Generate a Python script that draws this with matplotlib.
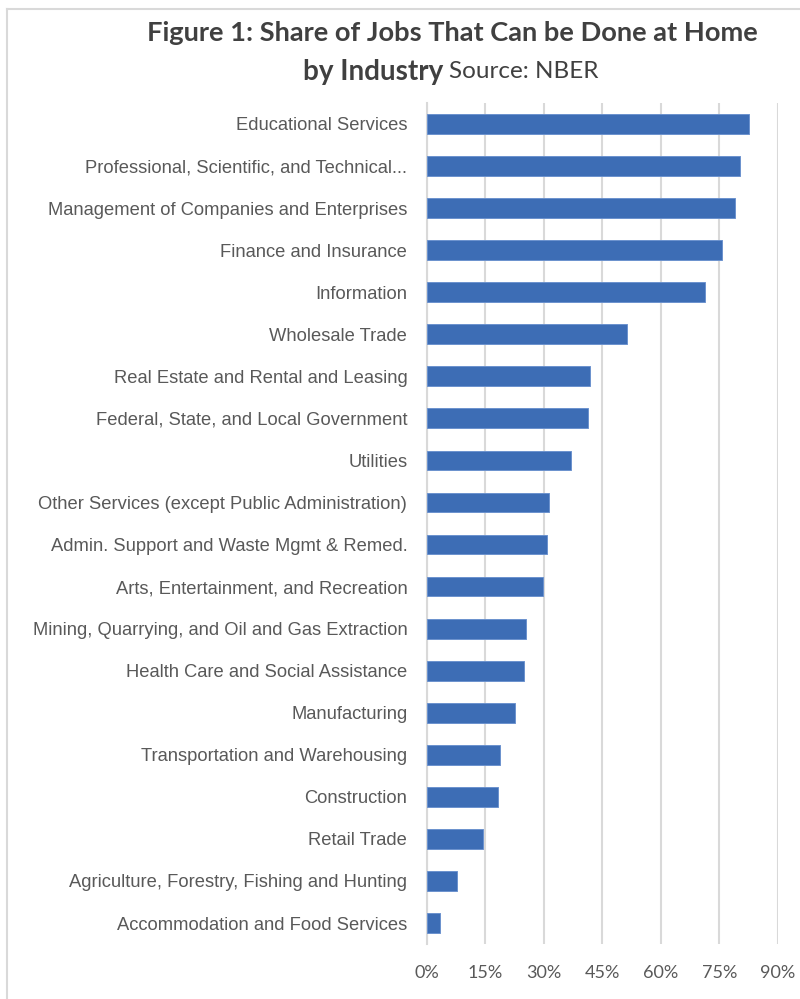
import matplotlib
matplotlib.use('Agg')
import matplotlib.pyplot as plt
from matplotlib import font_manager
from matplotlib.lines import Line2D
from matplotlib.ticker import FuncFormatter

# share of jobs that can be done at home, by industry (NBER)
industries = [
    'Educational Services',
    'Professional, Scientific, and Technical...',
    'Management of Companies and Enterprises',
    'Finance and Insurance',
    'Information',
    'Wholesale Trade',
    'Real Estate and Rental and Leasing',
    'Federal, State, and Local Government',
    'Utilities',
    'Other Services (except Public Administration)',
    'Admin. Support and Waste Mgmt & Remed.',
    'Arts, Entertainment, and Recreation',
    'Mining, Quarrying, and Oil and Gas Extraction',
    'Health Care and Social Assistance',
    'Manufacturing',
    'Transportation and Warehousing',
    'Construction',
    'Retail Trade',
    'Agriculture, Forestry, Fishing and Hunting',
    'Accommodation and Food Services',
]
share = [0.825, 0.802, 0.791, 0.758, 0.714, 0.514, 0.418, 0.413, 0.370, 0.313,
         0.308, 0.299, 0.255, 0.250, 0.227, 0.188, 0.184, 0.145, 0.078, 0.035]
xticks = [0, 0.15, 0.30, 0.45, 0.60, 0.75, 0.90]

names = {f.name for f in font_manager.fontManager.ttflist}
label_font = 'Liberation Sans Narrow' if 'Liberation Sans Narrow' in names else 'Liberation Sans'
title_font = 'Lato'

bar_color = '#3D6DB5'
grid_color = '#D9D9D9'
text_color = '#595959'

fig = plt.figure(figsize=(8, 9.99), dpi=100)
ax = fig.add_axes([0.5334, 0.055, 0.4388, 0.842])

ypos = list(range(len(industries)))
ax.barh(ypos, share, height=0.47, color=bar_color, edgecolor='#6C92CE',
        linewidth=0.7, zorder=3)
ax.set_ylim(len(industries) - 0.5, -0.5)
ax.set_xlim(0, 0.9)
ax.set_xticks(xticks)
ax.xaxis.set_major_formatter(FuncFormatter(lambda v, p: f'{v * 100:.0f}%'))
ax.set_yticks(ypos)
ax.set_yticklabels(industries, fontfamily=label_font, fontsize=13.2, color=text_color)
for lab in ax.get_xticklabels():
    lab.set_fontfamily(title_font)
    lab.set_fontsize(13)
    lab.set_color(text_color)

ax.tick_params(axis='both', length=0)
ax.tick_params(axis='x', pad=15)
ax.tick_params(axis='y', pad=14)
ax.grid(axis='x', color=grid_color, linewidth=1.5, zorder=0)
ax.set_axisbelow(True)
for s in ['top', 'right', 'bottom']:
    ax.spines[s].set_visible(False)
ax.spines['left'].set_color(grid_color)
ax.spines['left'].set_linewidth(1.5)

# title, second line mixes bold and regular weights
title_color = '#404040'
fig.text(0.565, 1 - 33 / 999, 'Figure 1: Share of Jobs That Can be Done at Home',
         ha='center', va='center', fontsize=19.6, fontweight='bold',
         fontfamily=title_font, color=title_color)
fig.text(0.5535, 1 - 72 / 999, 'by Industry', ha='right', va='center',
         fontsize=20, fontweight='bold', fontfamily=title_font, color=title_color)
fig.text(0.561, 1 - 72 / 999, 'Source: NBER', ha='left', va='center',
         fontsize=17.5, fontfamily=title_font, color=title_color)

# light frame along the top and left edge
fig.add_artist(Line2D([7 / 800, 1], [1 - 9 / 999, 1 - 9 / 999],
                      transform=fig.transFigure, color='#D9D9D9', linewidth=1.5))
fig.add_artist(Line2D([7 / 800, 7 / 800], [0, 1 - 9 / 999],
                      transform=fig.transFigure, color='#D9D9D9', linewidth=1.5))

fig.savefig('out.png', dpi=100)
